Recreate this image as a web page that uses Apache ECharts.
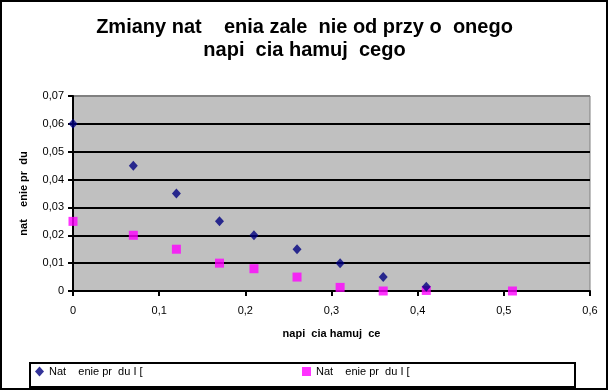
<!DOCTYPE html>
<html>
<head>
<meta charset="utf-8">
<script src="https://cdn.jsdelivr.net/npm/echarts@6/dist/echarts.min.js"></script>
<style>html,body{margin:0;padding:0;background:#fff}#c{width:609px;height:391px}</style>
</head>
<body>
<div id="c"></div>
<script>
var titleText = "Zmiany nat    enia zale  nie od przy o  onego\nnapi  cia hamuj  cego";
var xName = "napi  cia hamuj  ce";
var yName = "nat    enie pr  du";
var series1Name = "Nat    enie pr  du I [";
var series2Name = "Nat    enie pr  du I [ ";
var series1 = [[0,0.06],[0.07,0.045],[0.12,0.035],[0.17,0.025],[0.21,0.02],[0.26,0.015],[0.31,0.01],[0.36,0.005],[0.41,0.0015]];
var series2 = [[0,0.025],[0.07,0.02],[0.12,0.015],[0.17,0.01],[0.21,0.008],[0.26,0.005],[0.31,0.0013],[0.36,0],[0.41,0.0002],[0.51,0]];

var chart = echarts.init(document.getElementById('c'));
var font = 'Liberation Sans, Arial, sans-serif';
function comma(v){ return String(+v.toFixed(4)).replace('.', ','); }
chart.setOption({
  animation: false,
  title: {
    text: titleText, left: 'center', top: 11,
    textStyle: {fontFamily: font, fontSize: 20, fontWeight: 'bold', color: '#000', lineHeight: 23}
  },
  grid: {left: 73, right: 19, top: 96, bottom: 100, show: true, backgroundColor: '#C0C0C0', borderColor: '#808080', borderWidth: 1},
  xAxis: {
    type: 'value', min: 0, max: 0.6, interval: 0.1,
    name: xName, nameLocation: 'middle', nameGap: 37,
    nameTextStyle: {fontFamily: font, fontSize: 11, fontWeight: 'bold', color: '#000'},
    axisLine: {show: true, onZero: false, lineStyle: {color: '#000', width: 2}},
    axisTick: {show: true, inside: false, length: 5, lineStyle: {color: '#000', width: 2}},
    axisLabel: {fontFamily: font, fontSize: 11, color: '#000', margin: 14, formatter: comma},
    splitLine: {show: false}
  },
  yAxis: {
    type: 'value', min: 0, max: 0.07, interval: 0.01,
    name: yName, nameLocation: 'middle', nameGap: 44, nameRotate: 90,
    nameTextStyle: {fontFamily: font, fontSize: 11, fontWeight: 'bold', color: '#000'},
    axisLine: {show: true, onZero: false, lineStyle: {color: '#000', width: 2}},
    axisTick: {show: true, inside: false, length: 5, lineStyle: {color: '#000', width: 2}},
    axisLabel: {fontFamily: font, fontSize: 11, color: '#000', margin: 9, formatter: comma},
    splitLine: {show: true, lineStyle: {color: ['#000','#000','#000','#000','#000','#000','#000','#808080'], width: 2}}
  },
  legend: [
    {data: [{name: series1Name, icon: 'diamond'}], left: 30, top: 361, itemWidth: 9, itemHeight: 10, itemGap: 4,
     textStyle: {fontFamily: font, fontSize: 11, color: '#000'}},
    {data: [{name: series2Name, icon: 'rect'}], left: 297, top: 361, itemWidth: 9, itemHeight: 9, itemGap: 4,
     textStyle: {fontFamily: font, fontSize: 11, color: '#000'}}
  ],
  graphic: [
    {type: 'rect', shape: {x: 1, y: 1, width: 606, height: 388}, style: {fill: 'none', stroke: '#000', lineWidth: 2}, z: 100},
    {type: 'rect', shape: {x: 30, y: 363, width: 545, height: 24}, style: {fill: 'none', stroke: '#000', lineWidth: 2}, z: 100}
  ],
  series: [
    {name: series1Name, type: 'scatter', data: series1, symbol: 'diamond', symbolSize: [9, 10], itemStyle: {color: '#000080'}, z: 5},
    {name: series2Name, type: 'scatter', data: series2, symbol: 'rect', symbolSize: 9, itemStyle: {color: '#FF00FF'}, z: 4}
  ]
});
</script>
</body>
</html>
